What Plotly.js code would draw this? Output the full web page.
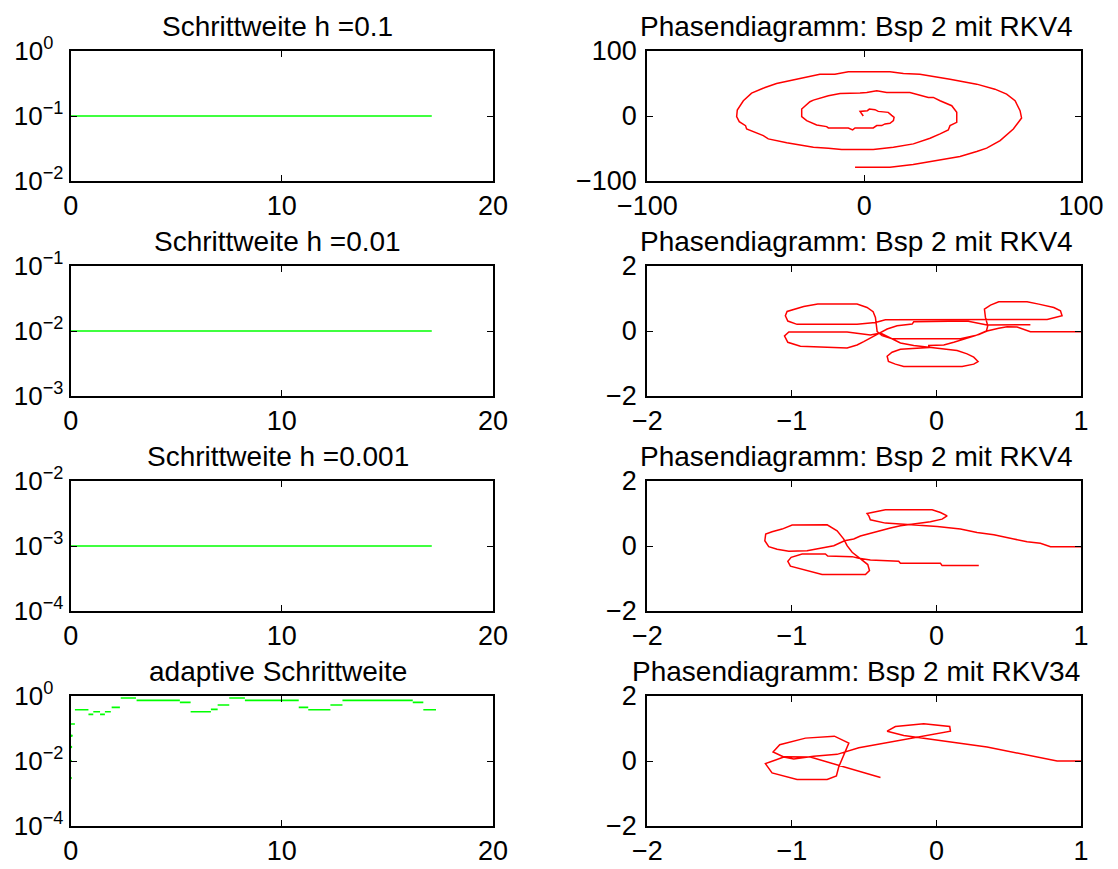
<!DOCTYPE html>
<html><head><meta charset="utf-8">
<script src="https://cdn.plot.ly/plotly-3.0.1.min.js"></script>
<style>html,body{margin:0;padding:0;background:#fff}#chart{width:1118px;height:869px}</style>
</head><body><div id="chart"></div>
<script>
// ---------- data ----------
const leftTitles = ['Schrittweite h =0.1', 'Schrittweite h =0.01', 'Schrittweite h =0.001', 'adaptive Schrittweite'];
const rightTitles = ['Phasendiagramm: Bsp 2 mit RKV4', 'Phasendiagramm: Bsp 2 mit RKV4', 'Phasendiagramm: Bsp 2 mit RKV4', 'Phasendiagramm: Bsp 2 mit RKV34'];

// constant step sizes (time span 0 .. 17.1)
const tConst = [0, 17.1];
const hConst1 = [0.1, 0.1];
const hConst2 = [0.01, 0.01];
const hConst3 = [0.001, 0.001];

// adaptive step sizes: segment start, end, step size
const adaptStart = [0, 0.2, 0.84, 1.07, 1.39, 1.62, 1.94, 2.37, 3.12, 5.17, 5.68, 6.64, 6.96, 7.51, 8.25, 10.8, 11.25, 12.3, 12.87, 16.2, 16.7];
const adaptEnd   = [0.2, 0.84, 1.07, 1.39, 1.62, 1.9, 2.33, 3.09, 5.17, 5.68, 6.64, 6.96, 7.51, 8.25, 10.8, 11.25, 12.3, 12.87, 16.2, 16.7, 17.3];
const adaptH     = [0.137, 0.379, 0.272, 0.329, 0.272, 0.329, 0.447, 0.868, 0.735, 0.638, 0.329, 0.388, 0.527, 0.868, 0.735, 0.447, 0.379, 0.527, 0.735, 0.638, 0.379];
// very first (small) steps
const adaptEarlyT = [0, 0.003, 0.013, 0.04];
const adaptEarlyH = [0.003, 0.01, 0.027, 0.06];

// phase diagram 1 (h = 0.1)
const spiralX = [-4.2,11.9,22.6,31.9,44.2,51.9,56.5,62.7,68.8,72.6,71.9,69.6,65.7,60.3,51.9,39.6,25.7,18.1,11.9,2.7,-7.3,-13.5,-20.4,-29.6,-40.4,-45.7,-51.9,-55.7,-58.5,-58.8,-57.6,-54.7,-54.2,-46.5,-44.2,-35.7,-23.4,-16.5,-10.4,4.2,13.5,22.7,30.4,35,38.8,39.6,42.7,42.7,40.4,35,31.9,29.6,21.1,10.4,5.8,1.2,-1.9,-11.1,-16.5,-23.4,-25,-28.8,-28.8,-26.5,-25,-21.9,-17.3,-16.5,-7.3,-5.3,-4.2,4.2,5.8,8.1,9.6,11.9,13.5,13.8,12.7,11.1,6.5,5,2.4,1.5,-1.9,-0.4];
const spiralY = [-79,-79,-74.5,-69.4,-62.2,-54.6,-49.5,-37.8,-19.9,-3,8.2,23.5,33.7,41.3,49,56.6,64.3,65.3,67.9,67.9,67.9,64.3,64.3,57.7,50,43.9,35.2,23.5,9.2,-1,-8.7,-14.8,-19.9,-30.1,-35.2,-41.3,-48,-49.5,-51.5,-51.5,-48,-42.9,-34.2,-27.6,-21.4,-14.8,-9.7,5.6,15.8,23.5,28.6,28.6,36.2,36.2,38.8,36.2,35.2,34.7,31.1,24.5,22,10.7,-1,-7.1,-9.7,-13.8,-16.3,-18.4,-18.4,-21.4,-18.4,-18.4,-14.8,-14.8,-12.2,-11.2,-7.1,-2,1,5.6,7.1,9.7,10.7,8.2,7.1,0];

// phase diagram 2 (h = 0.01)
const phase2X = [1.0,0.65,0.558,0.489,0.431,0.397,0.35,0.293,0.235,0.166,-0.307,-0.376,-0.41,-0.417,-0.422,-0.438,-0.48,-0.549,-0.821,-0.918,-0.987,-1.033,-1.045,-1.028,-0.964,-0.549,-0.422,-0.353,0.766,0.835,0.869,0.858,0.812,0.708,0.627,0.431,0.374,0.332,0.339,0.355,0.346,0.27,0.189,0.12,0.051,-0.053,-0.053,-0.249,-0.307,-0.341,-0.332,-0.284,-0.226,0.178,0.258,0.288,0.258,0.212,0.143,-0.042,-0.157,-0.249,-0.33,-0.387,-0.457,-0.549,-0.618,-1.021,-1.051,-1.028,-0.941,-0.618,-0.549,-0.503,-0.457,-0.41,-0.341,-0.272,-0.168,-0.157,0.212,0.304,0.35,0.65];
const phase2Y = [-0.02,-0.02,0.122,0.133,0.082,0.041,0.0,-0.112,-0.173,-0.235,-0.235,-0.143,-0.02,0.163,0.418,0.592,0.724,0.827,0.827,0.755,0.673,0.602,0.469,0.306,0.204,0.204,0.265,0.347,0.357,0.418,0.469,0.622,0.724,0.827,0.898,0.898,0.796,0.673,0.418,0.163,0.0,-0.143,-0.265,-0.347,-0.429,-0.449,-0.51,-0.561,-0.653,-0.776,-0.939,-1.02,-1.092,-1.092,-1.02,-0.939,-0.806,-0.704,-0.602,-0.51,-0.449,-0.367,-0.194,-0.061,-0.122,-0.061,-0.031,-0.031,-0.153,-0.347,-0.469,-0.52,-0.429,-0.327,-0.204,-0.102,0.061,0.163,0.214,0.286,0.306,0.224,0.184,0.194];

// phase diagram 3 (h = 0.001)
const phase3X = [1.0,0.789,0.719,0.627,0.535,0.466,0.397,0.281,0.166,0.005,-0.157,-0.214,-0.353,-0.457,-0.468,-0.48,-0.433,-0.353,-0.03,0.028,0.074,0.039,-0.042,-0.157,-0.249,-0.318,-0.387,-0.457,-0.526,-0.572,-0.636,-0.71,-0.802,-0.895,-1.021,-1.102,-1.16,-1.187,-1.181,-1.137,-1.068,-0.998,-0.756,-0.687,-0.641,-0.618,-0.583,-0.537,-0.475,-0.463,-0.491,-0.791,-0.872,-0.941,-1.01,-1.028,-1.005,-0.929,-0.768,-0.752,-0.583,-0.537,-0.457,-0.261,-0.249,0.028,0.039,0.293];
const phase3Y = [-0.02,-0.02,0.082,0.133,0.214,0.286,0.347,0.418,0.52,0.602,0.643,0.673,0.704,0.806,0.929,1.0,1.041,1.112,1.112,1.031,0.929,0.827,0.745,0.673,0.622,0.551,0.469,0.367,0.306,0.214,0.163,0.01,-0.071,-0.143,-0.163,-0.102,-0.02,0.163,0.367,0.439,0.52,0.643,0.653,0.469,0.214,0.01,-0.194,-0.367,-0.571,-0.755,-0.878,-0.878,-0.786,-0.714,-0.622,-0.469,-0.347,-0.245,-0.245,-0.306,-0.327,-0.378,-0.429,-0.469,-0.531,-0.531,-0.602,-0.602];

// phase diagram 4 (adaptive, RKV34)
const phase4X = [1.0,0.835,0.35,-0.088,-0.226,-0.341,-0.284,-0.088,0.092,0.097,-0.111,-0.249,-0.537,-0.687,-0.849,-0.987,-1.056,-1.13,-1.084,-0.906,-0.706,-0.606,-0.641,-0.676,-0.692,-0.756,-0.964,-1.137,-1.183,-1.125,-1.051,-0.872,-0.756,-0.618,-0.387];
const phase4Y = [0.0,0.0,0.429,0.714,0.786,0.918,1.061,1.143,1.061,0.918,0.755,0.653,0.408,0.204,0.143,0.061,0.122,0.276,0.5,0.704,0.765,0.551,0.173,-0.184,-0.459,-0.571,-0.571,-0.367,-0.082,0.02,0.133,0.122,-0.031,-0.204,-0.51];

// tick labels
const logExps = [[-2, -1, 0], [-3, -2, -1], [-4, -3, -2], [-4, -2, 0]];
const logRanges = [[-2, 0], [-3, -1], [-4, -2], [-4, 0]];
const timeTicks = [0, 10, 20];
const spiralTicks = [-100, 0, 100];
const phaseXTicks = [-2, -1, 0, 1];
const phaseYTicks = [-2, 0, 2];

// ---------- layout helpers ----------
const FONT = 'Liberation Sans, Arial, Helvetica, sans-serif';
const W = 1118, H = 869;
const leftDom = [70.7 / W, 493 / W];
const rightDom = [647.3 / W, 1081 / W];
const rowTops = [51, 266, 481, 696];
const rowH = 130;
function yDom(i) { return [1 - (rowTops[i] + rowH) / H, 1 - rowTops[i] / H]; }
// superscript labels; a non-negative exponent is padded so the base "10" lines up
function supText(e) { return '10<sup>' + (e < 0 ? '\u2212' + (-e) : String(e) + '\u00a0\u00a0') + '</sup>'; }
function numText(v) { return v < 0 ? '\u2212' + (-v) : String(v); }

function axis(domain, anchor, range, type, tickvals, ticktext) {
  return {
    domain: domain, anchor: anchor, range: range, type: type, autorange: false,
    tickmode: 'array', tickvals: tickvals, ticktext: ticktext,
    showgrid: false, zeroline: false, showline: true, mirror: 'allticks',
    linecolor: '#000', linewidth: 2, ticks: 'inside', ticklen: 6, tickwidth: 1, tickcolor: '#000',
    tickfont: { family: FONT, size: 27, color: '#000' }, fixedrange: true
  };
}

const layout = {
  width: W, height: H, margin: { l: 0, r: 0, t: 0, b: 0 },
  paper_bgcolor: '#fff', plot_bgcolor: '#fff', showlegend: false,
  font: { family: FONT, size: 27, color: '#000' },
  annotations: []
};

const data = [];
const GREEN = '#00ff00', RED = '#ff0000';

// left column: step sizes
const constH = [hConst1, hConst2, hConst3];
for (let i = 0; i < 4; i++) {
  const n = i + 1;
  const xs = n === 1 ? 'xaxis' : 'xaxis' + n;
  const ys = n === 1 ? 'yaxis' : 'yaxis' + n;
  layout[xs] = axis(leftDom, 'y' + n, [0, 20], 'linear', timeTicks, timeTicks.map(numText));
  layout[ys] = axis(yDom(i), 'x' + n, logRanges[i], 'log', logExps[i].map(e => Math.pow(10, e)), logExps[i].map(supText));
  layout[ys].tickfont = { family: FONT, size: 26, color: '#000' };
  if (i < 3) {
    data.push({ x: tConst, y: constH[i], xaxis: 'x' + n, yaxis: 'y' + n, mode: 'lines', line: { color: GREEN, width: 1.6 }, hoverinfo: 'none' });
  } else {
    const ax = [], ay = [];
    for (let k = 0; k < adaptStart.length; k++) {
      ax.push(adaptStart[k], adaptEnd[k], null);
      ay.push(adaptH[k], adaptH[k], null);
    }
    data.push({ x: ax, y: ay, xaxis: 'x4', yaxis: 'y4', mode: 'lines', connectgaps: false, line: { color: GREEN, width: 1.6 }, hoverinfo: 'none' });
    data.push({ x: adaptEarlyT, y: adaptEarlyH, xaxis: 'x4', yaxis: 'y4', mode: 'markers', marker: { color: GREEN, size: 2.5 }, hoverinfo: 'none' });
  }
  layout.annotations.push({ text: leftTitles[i], xref: 'x' + n + ' domain', yref: 'y' + n + ' domain', x: 0.5, y: 1, xanchor: 'center', yanchor: 'bottom', yshift: 7, xshift: -4, showarrow: false, font: { family: FONT, size: 28, color: '#000' } });
}

// right column: phase diagrams
const phX = [spiralX, phase2X, phase3X, phase4X];
const phY = [spiralY, phase2Y, phase3Y, phase4Y];
for (let i = 0; i < 4; i++) {
  const n = i + 5;
  let xr, yr, xt, yt;
  if (i === 0) { xr = [-100, 100]; yr = [-100, 100]; xt = spiralTicks; yt = spiralTicks; }
  else { xr = [-2, 1]; yr = [-2, 2]; xt = phaseXTicks; yt = phaseYTicks; }
  layout['xaxis' + n] = axis(rightDom, 'y' + n, xr, 'linear', xt, xt.map(numText));
  layout['yaxis' + n] = axis(yDom(i), 'x' + n, yr, 'linear', yt, yt.map(numText));
  layout['yaxis' + n].ticklabelstandoff = 3;
  data.push({ x: phX[i], y: phY[i], xaxis: 'x' + n, yaxis: 'y' + n, mode: 'lines', line: { color: RED, width: 1.5 }, hoverinfo: 'none' });
  layout.annotations.push({ text: rightTitles[i], xref: 'x' + n + ' domain', yref: 'y' + n + ' domain', x: 0.5, y: 1, xanchor: 'center', yanchor: 'bottom', yshift: 7, xshift: -8, showarrow: false, font: { family: FONT, size: 28, color: '#000' } });
}

Plotly.newPlot('chart', data, layout, { displayModeBar: false, staticPlot: true });
</script></body></html>
